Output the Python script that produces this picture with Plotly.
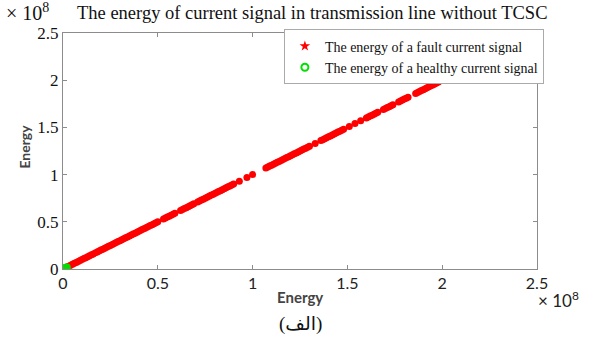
import plotly.graph_objects as go

# Energy values in units of 1e8
fault_energy_x = [
    0.00, 0.01, 0.02, 0.03, 0.04, 0.05, 0.06, 0.07, 0.08, 0.09,
    0.10, 0.11, 0.12, 0.13, 0.14, 0.15, 0.16, 0.17, 0.18, 0.19,
    0.20, 0.21, 0.22, 0.23, 0.24, 0.25, 0.26, 0.27, 0.28, 0.29,
    0.30, 0.31, 0.32, 0.33, 0.34, 0.35, 0.36, 0.37, 0.38, 0.39,
    0.40, 0.41, 0.42, 0.43, 0.44, 0.45, 0.46, 0.47, 0.48, 0.49, 0.50,
    0.53, 0.54, 0.55, 0.56, 0.57, 0.58, 0.59,
    0.62, 0.63, 0.64, 0.65, 0.66, 0.67, 0.68, 0.69,
    0.71, 0.72, 0.73, 0.74, 0.75, 0.76, 0.77, 0.78, 0.79, 0.80,
    0.81, 0.82, 0.83, 0.84, 0.85, 0.86, 0.87, 0.88, 0.89, 0.90,
    0.93, 0.97, 1.00,
    1.07, 1.08, 1.09, 1.10, 1.11, 1.12, 1.13, 1.14, 1.15, 1.16, 1.17, 1.18,
    1.19, 1.20, 1.21, 1.22, 1.23, 1.24, 1.25, 1.26, 1.27, 1.28, 1.29, 1.30,
    1.33,
    1.36, 1.37, 1.38, 1.39, 1.40, 1.41, 1.42, 1.43, 1.44, 1.45, 1.46, 1.47, 1.48,
    1.51, 1.54, 1.57,
    1.60, 1.61, 1.62, 1.63, 1.64, 1.65, 1.66,
    1.69, 1.70, 1.71, 1.72, 1.73, 1.74,
    1.77, 1.78, 1.79, 1.80, 1.81, 1.82,
    1.86, 1.87, 1.88, 1.89, 1.90, 1.91, 1.92, 1.93, 1.94, 1.95, 1.96, 1.97, 1.98,
    2.02, 2.03, 2.04, 2.05, 2.06, 2.07, 2.08, 2.09, 2.10, 2.11, 2.12, 2.13, 2.14, 2.15,
]
fault_energy_y = [
    0.00, 0.01, 0.02, 0.03, 0.04, 0.05, 0.06, 0.07, 0.08, 0.09,
    0.10, 0.11, 0.12, 0.13, 0.14, 0.15, 0.16, 0.17, 0.18, 0.19,
    0.20, 0.21, 0.22, 0.23, 0.24, 0.25, 0.26, 0.27, 0.28, 0.29,
    0.30, 0.31, 0.32, 0.33, 0.34, 0.35, 0.36, 0.37, 0.38, 0.39,
    0.40, 0.41, 0.42, 0.43, 0.44, 0.45, 0.46, 0.47, 0.48, 0.49, 0.50,
    0.53, 0.54, 0.55, 0.56, 0.57, 0.58, 0.59,
    0.62, 0.63, 0.64, 0.65, 0.66, 0.67, 0.68, 0.69,
    0.71, 0.72, 0.73, 0.74, 0.75, 0.76, 0.77, 0.78, 0.79, 0.80,
    0.81, 0.82, 0.83, 0.84, 0.85, 0.86, 0.87, 0.88, 0.89, 0.90,
    0.93, 0.97, 1.00,
    1.07, 1.08, 1.09, 1.10, 1.11, 1.12, 1.13, 1.14, 1.15, 1.16, 1.17, 1.18,
    1.19, 1.20, 1.21, 1.22, 1.23, 1.24, 1.25, 1.26, 1.27, 1.28, 1.29, 1.30,
    1.33,
    1.36, 1.37, 1.38, 1.39, 1.40, 1.41, 1.42, 1.43, 1.44, 1.45, 1.46, 1.47, 1.48,
    1.51, 1.54, 1.57,
    1.60, 1.61, 1.62, 1.63, 1.64, 1.65, 1.66,
    1.69, 1.70, 1.71, 1.72, 1.73, 1.74,
    1.77, 1.78, 1.79, 1.80, 1.81, 1.82,
    1.86, 1.87, 1.88, 1.89, 1.90, 1.91, 1.92, 1.93, 1.94, 1.95, 1.96, 1.97, 1.98,
    2.02, 2.03, 2.04, 2.05, 2.06, 2.07, 2.08, 2.09, 2.10, 2.11, 2.12, 2.13, 2.14, 2.15,
]
healthy_energy_x = [0.000, 0.005, 0.010, 0.015, 0.020]
healthy_energy_y = [0.000, 0.004, 0.008, 0.012, 0.016]

tick_vals = [0, 0.5, 1, 1.5, 2, 2.5]
tick_text = ["0", "0.5", "1", "1.5", "2", "2.5"]

title_text = "The energy of current signal in transmission line without TCSC"
fault_name = "The energy of a fault current signal"
healthy_name = "The energy of a healthy current signal"

RED = "#ff0000"
GREEN = "#00e000"

fig = go.Figure()
fig.add_trace(go.Scatter(x=fault_energy_x, y=fault_energy_y, mode="markers",
                         marker=dict(color=RED, size=7, symbol="circle"),
                         showlegend=False, hoverinfo="skip"))
fig.add_trace(go.Scatter(x=healthy_energy_x, y=healthy_energy_y, mode="markers",
                         marker=dict(color=GREEN, size=6, symbol="circle-open",
                                     line=dict(color=GREEN, width=2)),
                         showlegend=False, hoverinfo="skip"))
# legend entries
fig.add_trace(go.Scatter(x=[None], y=[None], mode="markers", name=fault_name,
                         marker=dict(color=RED, size=8, symbol="star")))
fig.add_trace(go.Scatter(x=[None], y=[None], mode="markers", name=healthy_name,
                         marker=dict(color=GREEN, size=7, symbol="circle-open",
                                     line=dict(color=GREEN, width=2))))

axis_common = dict(range=[0, 2.5], tickvals=tick_vals, ticktext=tick_text,
                   showgrid=False, zeroline=False, showline=True,
                   linecolor="#8c8c8c", linewidth=1, mirror="ticks",
                   ticks="inside", ticklen=4, tickcolor="#8c8c8c")

fig.update_xaxes(**axis_common, tickfont=dict(family="Lato", size=16, color="#222"))
fig.update_yaxes(**axis_common, tickfont=dict(family="Liberation Serif", size=17, color="#111"))

fig.update_layout(
    width=592, height=345,
    margin=dict(l=63, r=55, t=33, b=76),
    paper_bgcolor="white", plot_bgcolor="white",
    legend=dict(x=0.466, y=1.015, xanchor="left", yanchor="top",
                bgcolor="white", bordercolor="#aaaaaa", borderwidth=1,
                font=dict(family="Liberation Serif", size=14, color="#111"),
                tracegroupgap=0, itemwidth=30),
    annotations=[
        dict(text=title_text, xref="paper", yref="paper", x=0.025, y=1.085,
             xanchor="left", yanchor="middle", showarrow=False,
             font=dict(family="Liberation Serif", size=18.5, color="#111")),
        dict(text="× 10<sup>8</sup>", xref="paper", yref="paper", x=-0.125, y=1.09,
             xanchor="left", yanchor="middle", showarrow=False,
             font=dict(family="Liberation Serif", size=20, color="#111")),
        dict(text="× 10<sup>8</sup>", xref="paper", yref="paper", x=0.998, y=-0.13,
             xanchor="left", yanchor="middle", showarrow=False,
             font=dict(family="Lato", size=17, color="#222")),
        dict(text="<b>Energy</b>", xref="paper", yref="paper", x=0.5, y=-0.118,
             xanchor="center", yanchor="middle", showarrow=False,
             font=dict(family="Lato", size=15, color="#444")),
        dict(text="<b>Energy</b>", xref="paper", yref="paper", x=-0.081, y=0.517,
             xanchor="center", yanchor="middle", showarrow=False, textangle=-90,
             font=dict(family="Lato", size=14, color="#444")),
        dict(text="(الف)", xref="paper", yref="paper", x=0.5, y=-0.235,
             xanchor="center", yanchor="middle", showarrow=False,
             font=dict(family="Liberation Serif, DejaVu Sans", size=19, color="#111")),
    ],
)

fig.write_html("out.html")
